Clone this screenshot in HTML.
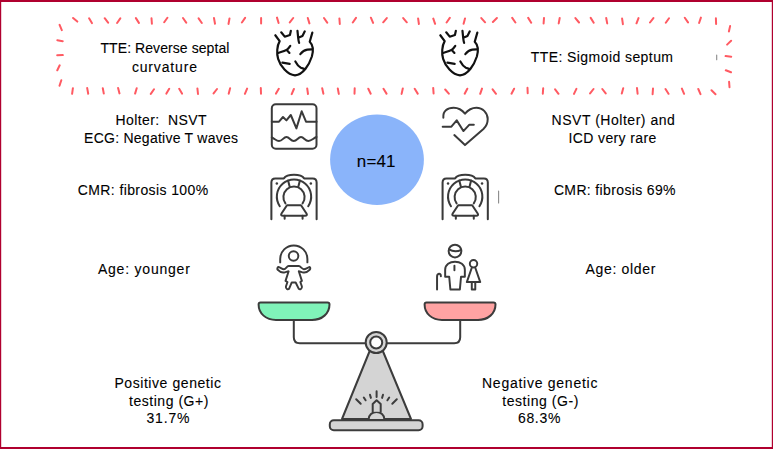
<!DOCTYPE html>
<html><head><meta charset="utf-8">
<style>
html,body{margin:0;padding:0;background:#fff;}
#c{position:relative;width:773px;height:449px;overflow:hidden;background:#fff;font-family:"Liberation Sans",sans-serif;color:#1a1a1a;}
.t{position:absolute;white-space:pre;color:#000;-webkit-text-stroke:0.1px #000;}
svg{position:absolute;left:0;top:0;}
</style></head><body>
<div id="c">
<svg width="773" height="449" viewBox="0 0 773 449">
  <!-- frame -->
  <rect x="0" y="0" width="773" height="2" fill="#b0002f"/>
  <rect x="0" y="447" width="773" height="2" fill="#b0002f"/>
  <rect x="0" y="0" width="1.2" height="449" fill="#b0002f"/>
  <rect x="771.8" y="0" width="1.2" height="449" fill="#b0002f"/>
  <!-- ticks -->
  <path d="M73.1 18.0L77.3 21.6M89.1 18.3L91.9 23.1M104.7 18.2L108.1 22.6M120.3 18.4L117.1 23.0M135.9 18.1L138.9 22.9M151.5 18.2L151.9 23.8M167.4 17.7L164.2 22.3M183.0 18.0L186.2 22.6M198.6 18.4L201.8 23.0M214.0 18.1L215.0 23.7M229.5 18.4L228.5 24.0M245.1 17.9L241.9 22.5M261.1 17.9L261.1 23.5M277.0 17.6L278.6 23.0M293.2 18.0L289.8 22.4M307.8 18.0L309.4 23.4M324.0 18.0L327.2 22.6M339.4 18.4L339.8 24.0M356.0 17.9L352.8 22.5M370.9 17.7L373.1 22.9M386.8 18.1L383.2 22.3M403.2 18.1L406.8 22.3M418.1 18.4L418.9 24.0M433.3 18.6L435.1 23.8M449.8 17.9L446.6 22.5M465.0 18.4L463.6 23.8M481.3 18.1L485.1 22.3M496.9 18.0L492.9 22.0M512.2 17.9L515.4 22.5M528.2 17.9L531.2 22.7M544.0 17.9L543.6 23.5M559.7 18.0L558.7 23.4M575.4 18.1L579.0 22.5M590.7 17.9L593.7 22.7M606.2 18.0L607.2 23.4M622.1 18.6L622.9 24.2M638.5 18.1L636.5 23.3M653.4 18.1L650.0 22.5M669.0 18.2L665.8 22.8M684.8 17.8L688.0 22.4M700.9 17.6L699.1 23.0M715.9 18.3L716.1 23.9M730.1 26.1L728.9 31.5M731.1 40.8L727.1 44.6M725.6 56.1L731.2 56.7M725.8 70.3L731.0 72.3M729.1 81.7L729.5 87.3M59.6 24.9L61.8 30.1M57.3 40.2L62.7 41.2M57.2 55.3L62.8 55.1M59.7 65.3L57.3 70.3M61.3 80.3L59.5 85.7M72.9 88.2L72.1 93.8M87.2 88.1L88.2 93.7M102.8 88.2L103.8 93.6M118.1 88.0L119.5 93.4M136.7 88.2L135.1 93.6M154.0 89.3L150.8 93.9M169.2 88.8L166.4 93.6M179.2 88.8L182.0 93.6M197.4 88.4L198.0 94.0M217.0 89.0L213.6 93.4M230.1 88.3L228.7 93.7M247.1 88.6L244.9 93.8M260.8 88.1L261.0 93.7M278.8 88.8L276.0 93.6M293.9 89.0L291.7 94.2M307.2 88.4L308.0 94.0M322.2 88.3L323.4 93.7M337.8 88.5L338.8 93.9M354.7 88.2L354.5 93.8M368.3 88.7L370.7 93.7M383.5 88.8L386.5 93.6M402.8 88.5L401.6 93.9M414.7 88.8L417.7 93.6M433.2 87.9L433.6 93.5M445.2 89.5L448.8 93.7M467.3 88.7L464.7 93.7M482.0 88.6L480.2 93.8M492.6 89.4L496.0 93.8M514.1 88.7L511.5 93.7M527.5 87.7L527.7 93.3M543.2 88.2L542.8 93.8M555.1 89.4L558.5 93.8M576.4 88.9L574.0 93.9M593.5 89.0L590.1 93.4M602.3 89.0L605.7 93.4M623.2 88.2L621.8 93.6M637.0 88.1L637.6 93.7M653.0 88.6L652.6 94.2M665.5 89.0L668.5 93.8M681.9 88.6L684.1 93.8M698.3 89.0L700.5 94.2M711.5 90.2L715.5 94.2" stroke="#ff5a62" stroke-width="2" stroke-linecap="round" fill="none"/>
  <!-- circle -->
  <ellipse cx="377" cy="159.8" rx="46.9" ry="45.2" fill="#8ab4fa"/>
  <!-- hearts -->
  <g id="heart" transform="translate(272,27) scale(0.11795)" stroke="#111" stroke-width="18.5" stroke-linecap="round" stroke-linejoin="round" fill="none">
    <path d="M28 70L65 120C42 160 38 225 52 270C70 330 130 405 195 410C265 405 315 320 338 250C352 200 345 150 320 125L342 48"/>
    <path d="M78 45L108 82L152 68L160 32"/>
    <path d="M216 33L222 92C224 110 226 124 230 135M222 92L258 76L278 37"/>
    <path d="M50 220C80 212 110 205 130 190C140 180 148 170 155 160M125 195L148 220"/>
    <path d="M240 230C255 210 275 195 300 192L335 190"/>
    <path d="M88 302L150 312"/>
    <path d="M198 292C210 315 225 335 245 345L272 355"/>
  </g>
  <use href="#heart" x="165" y="0"/>
  <g stroke="#3a3a3a" stroke-width="2" stroke-linecap="round" stroke-linejoin="round" fill="none">
    <!-- monitor -->
    <rect x="271.8" y="104.3" width="44.7" height="44.4" rx="4"/>
    <path d="M271.8 121.7L279 121.7L283 117L286.4 120.4L290.8 115L296.4 128.4L301.7 111.3L306 121.7L316.5 121.7"/>
    <path d="M271.8 137.5C275 139 276.5 141 279 141C282.5 141 283.5 137 286.4 137C289.5 137 290.5 141 293.7 141C297 141 298 137 301 137C304 137 305 141 308.4 141C311.5 141 313 138.5 316.5 137"/>
    <!-- heart ecg -->
  </g>
  <g transform="translate(430,95) scale(0.13358)" stroke="#3a3a3a" stroke-width="15" stroke-linecap="round" stroke-linejoin="round" fill="none">
    <path d="M100 170C95 120 130 95 177 95C215 95 245 118 262 140C280 118 310 95 347 95C395 95 432 135 432 180C432 212 418 238 400 255L262 375L182 300"/>
    <path d="M95 237L160 237L200 190L250 270L295 222L328 222"/>
  </g>

  <!-- MRI -->
  <g id="mri" transform="translate(255,160) scale(0.156)" stroke="#3a3a3a" stroke-width="13" stroke-linecap="round" stroke-linejoin="round" fill="none">
    <path d="M105 380L105 145Q105 118 130 118L185 118C205 87 295 87 315 118L370 118Q395 118 395 145L395 380"/>
    <circle cx="140" cy="150" r="8" fill="#3a3a3a" stroke="none"/>
    <circle cx="358" cy="150" r="8" fill="#3a3a3a" stroke="none"/>
    <path d="M158.8 296.5A110 110 0 1 1 341.2 296.5"/>
    <path d="M195 278A68 68 0 1 1 305 278"/>
    <path d="M212 132L222 170M288 132L278 170"/>
    <path d="M205 290L295 290L330 343Q338 358 320 358L180 358Q162 358 170 343Z"/>
    <path d="M190 358L190 376M305 358L305 376"/>
  </g>
  <use href="#mri" x="171.2" y="0"/>
  <!-- child -->
  <g transform="translate(260,235) scale(0.14463)" stroke="#3a3a3a" stroke-width="13.5" stroke-linecap="round" stroke-linejoin="round" fill="none">
    <path d="M139.7 189.4L139.7 165.9A94.0 94.0 0 0 1 327.7 165.9L327.7 189.4"/>
    <circle cx="232" cy="145" r="33"/>
  </g>
  <g transform="translate(275,260) scale(0.07797)" stroke="#3a3a3a" stroke-width="25" stroke-linecap="round" stroke-linejoin="round" fill="none">
    <path d="M45 90C70 95 90 118 115 118C140 118 150 80 175 78L305 78C330 80 345 118 370 118C395 118 420 95 445 90C455 95 455 115 445 125C420 150 395 165 365 160C340 155 320 145 305 145L345 268L325 282L345 340C350 370 320 385 305 370L265 288L215 288L180 370C165 385 135 370 140 340L160 282L135 268L175 145C160 145 140 155 115 160C85 165 60 150 35 125C25 115 30 92 45 90Z"/>
  </g>
  <!-- family -->
  <g transform="translate(433,242) scale(0.1158)" stroke="#3a3a3a" stroke-width="17" stroke-linecap="round" stroke-linejoin="round" fill="none">
    <circle cx="190" cy="78" r="55"/>
    <path d="M138 64Q190 94 244 68"/>
    <path d="M105 300L105 240C105 195 145 170 190 170C235 170 275 195 275 240L275 300L242 300L232 410L150 410L140 300Z"/>
    <path d="M185 205L185 245"/>
    <path d="M35 410L35 300C35 270 68 265 68 295"/>
    <circle cx="350" cy="188" r="32"/>
    <path d="M335 222L292 346L408 346L365 222"/>
    <path d="M335 346L335 410L365 410L365 346"/>
  </g>
  <!-- scale -->
  <g stroke="#3c3c3c" stroke-width="2" stroke-linecap="round" stroke-linejoin="round">
    <path d="M293.8 320L293.8 337.3Q293.8 343.3 299.8 343.3L454.2 343.3Q460.2 343.3 460.2 337.3L460.2 320" fill="none"/>
    <path id="pan" d="M260.5 302.4L327.5 302.4Q329.5 302.4 329.5 304.5C329.5 313.5 322 320 312 320L276 320C266 320 258.6 313.5 258.6 304.5Q258.6 302.4 260.5 302.4Z" fill="#80f3b9"/>
    <path d="M426.5 302.4L493.5 302.4Q495.5 302.4 495.5 304.5C495.5 313.5 488 320 478 320L442 320C432 320 424.6 313.5 424.6 304.5Q424.6 302.4 426.5 302.4Z" fill="#ffa3a3"/>
    <path d="M376.2 335L342 419L411 419Z" fill="#d4d4d4"/>
    <circle cx="376.2" cy="342.5" r="10.5" fill="#d4d4d4"/>
    <circle cx="376.2" cy="342.5" r="6" fill="#fff"/>
    <rect x="329.8" y="420.2" width="92.8" height="10.1" rx="4" fill="#d4d4d4"/>
    <path d="M368.7 418.9A7.8 7 0 0 1 384.3 418.9" fill="#d4d4d4"/>
    <path d="M372.7 411.7L372.7 403.9L376.6 400.2L380.7 403.9L380.7 411.7" fill="#d4d4d4"/>
    <path d="M376.6 391.2L376.6 397M370 394.8L370.9 397.9M363.8 397.5L365.6 400.3M356.2 399.3L360.7 403.7M383 394.8L382.1 397.9M389.2 397.5L387.4 400.3M396.8 399.3L392.3 403.7" fill="none"/>
  </g>
  <path d="M498.6 191L498.6 203M716.7 55L716.7 59.8" stroke="#8a8a8a" stroke-width="1.1" stroke-linecap="round"/>
</svg>
<div class="t" style="left:100.5px;top:40.9px;font-size:14px;line-height:14px;letter-spacing:0.07px">TTE: Reverse septal</div>
<div class="t" style="left:131.9px;top:59.6px;font-size:14px;line-height:14px;letter-spacing:0.84px">curvature</div>
<div class="t" style="left:115.6px;top:112.9px;font-size:14px;line-height:14px;letter-spacing:0.38px">Holter:  NSVT</div>
<div class="t" style="left:84.1px;top:130.8px;font-size:14px;line-height:14px;letter-spacing:0.25px">ECG: Negative T waves</div>
<div class="t" style="left:77.8px;top:182.8px;font-size:14px;line-height:14px;letter-spacing:0.39px">CMR: fibrosis 100%</div>
<div class="t" style="left:530.7px;top:50.2px;font-size:14px;line-height:14px;letter-spacing:0.43px">TTE: Sigmoid septum</div>
<div class="t" style="left:551.6px;top:112.9px;font-size:14px;line-height:14px;letter-spacing:0.52px">NSVT (Holter) and</div>
<div class="t" style="left:568.5px;top:131.2px;font-size:14px;line-height:14px;letter-spacing:0.38px">ICD very rare</div>
<div class="t" style="left:553.9px;top:183.1px;font-size:14px;line-height:14px;letter-spacing:0.36px">CMR: fibrosis 69%</div>
<div class="t" style="left:97.9px;top:261.8px;font-size:14px;line-height:14px;letter-spacing:0.79px">Age: younger</div>
<div class="t" style="left:585.6px;top:262.2px;font-size:14px;line-height:14px;letter-spacing:0.66px">Age: older</div>
<div class="t" style="left:114.4px;top:376.1px;font-size:14px;line-height:14px;letter-spacing:0.57px">Positive genetic</div>
<div class="t" style="left:129.0px;top:393.6px;font-size:14px;line-height:14px;letter-spacing:0.53px">testing (G+)</div>
<div class="t" style="left:146.5px;top:411.4px;font-size:14px;line-height:14px;letter-spacing:0.83px">31.7%</div>
<div class="t" style="left:482.0px;top:375.9px;font-size:14px;line-height:14px;letter-spacing:0.74px">Negative genetic</div>
<div class="t" style="left:502.3px;top:393.6px;font-size:14px;line-height:14px;letter-spacing:0.55px">testing (G-)</div>
<div class="t" style="left:517.9px;top:411.4px;font-size:14px;line-height:14px;letter-spacing:0.7px">68.3%</div>
<div class="t" style="left:356.8px;top:152.5px;font-size:17px;line-height:17px;letter-spacing:0.13px">n=41</div>
</div>
</body></html>
